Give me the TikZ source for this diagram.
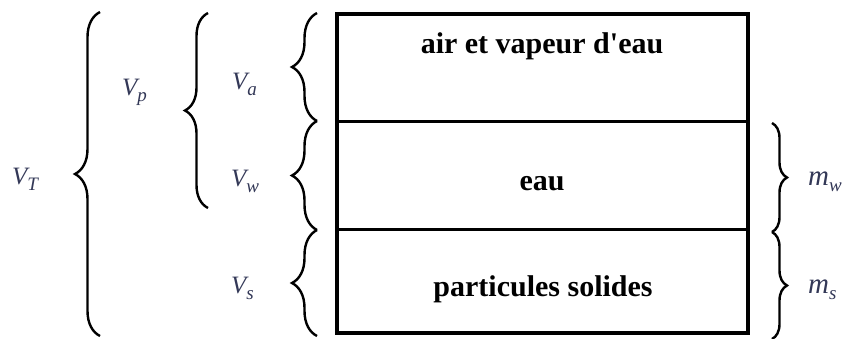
\documentclass[tikz,border=0pt]{standalone}
\usepackage{fontspec}
\setmainfont{Liberation Serif}
\usetikzlibrary{decorations.pathreplacing}
\definecolor{labcol}{rgb}{0.20,0.22,0.34}
\newcommand\mysub[1]{\raisebox{-6pt}{\fontsize{19}{22}\selectfont #1}}
\begin{document}
\begin{tikzpicture}[x=1pt,y=-1pt,
  bracebig/.style={decorate,decoration={brace,amplitude=#1},line width=2.4pt,black},
  lablV/.style={text=labcol,font=\fontsize{25}{30}\selectfont\itshape,inner sep=0pt,anchor=base west},
  lablM/.style={text=labcol,font=\fontsize{29}{34}\selectfont\itshape,inner sep=0pt,anchor=base west},
  layertxt/.style={text=black,font=\fontsize{30}{36}\selectfont\bfseries,inner sep=0pt,anchor=base}]
\useasboundingbox (0,0) rectangle (848,338);
% box
\draw[line width=4.5pt] (337,14) rectangle (748,333);
\coordinate (dl1) at (337,121); \coordinate (dr1) at (748,121);
\coordinate (dl2) at (337,229); \coordinate (dr2) at (748,229);
\draw[line width=3pt] (dl1) -- (dr1);
\draw[line width=3pt] (dl2) -- (dr2);
% layer texts
\node[layertxt] (air) at (542,53) {air et vapeur d\textquotesingle eau};
\node[layertxt] (eau) at (542,190) {eau};
\node[layertxt] (sol) at (543,296) {particules solides};
% left small braces
\coordinate (a1) at (317,13);  \coordinate (a2) at (317,121);
\coordinate (w2) at (317,230);
\coordinate (s2) at (317,336);
\draw[bracebig=25] (a2) -- (a1);
\draw[bracebig=25] (w2) -- (a2);
\draw[bracebig=25] (s2) -- (w2);
% Vp brace
\coordinate (p1) at (208,13); \coordinate (p2) at (208,208);
\draw[bracebig=23] (p2) -- (p1);
% VT brace
\coordinate (t1) at (100,12); \coordinate (t2) at (100,336);
\draw[bracebig=25] (t2) -- (t1);
% right braces
\coordinate (m1) at (772,123); \coordinate (m2) at (772,232); \coordinate (m3) at (772,339);
\draw[bracebig=15] (m1) -- (m2);
\draw[bracebig=15] (m2) -- (m3);
% labels
\node[lablV] (VT) at (12,184) {V\mysub{T}};
\node[lablV] (Vp) at (122,95) {V\mysub{p}};
\node[lablV] (Va) at (232,89) {V\mysub{a}};
\node[lablV] (Vw) at (231,186) {V\mysub{w}};
\node[lablV] (Vs) at (231,293) {V\mysub{s}};
\node[lablM] (mw) at (808,185) {m\mysub{w}};
\node[lablM] (ms) at (808,293) {m\mysub{s}};
\end{tikzpicture}
\end{document}
